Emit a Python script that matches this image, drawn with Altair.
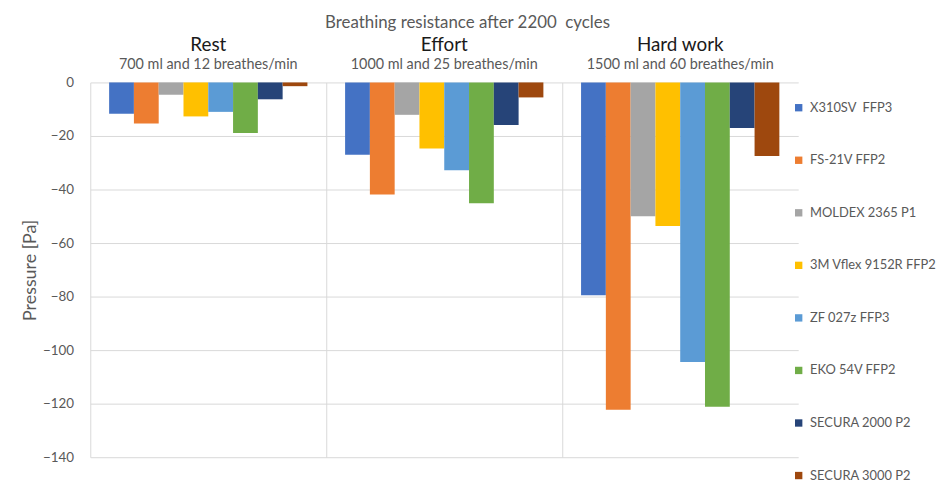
import altair as alt
import pandas as pd

# ---- data ----
conditions = ["Rest", "Effort", "Hard work"]
subtitles = ["700 ml and 12 breathes/min", "1000 ml and 25 breathes/min", "1500 ml and 60 breathes/min"]
series = ["X310SV\u00a0 FFP3", "FS-21V FFP2", "MOLDEX 2365 P1", "3M Vflex 9152R FFP2",
          "ZF 027z FFP3", "EKO 54V FFP2", "SECURA 2000 P2", "SECURA 3000 P2"]
rest = [-11.7, -15.3, -4.6, -12.7, -11.0, -18.9, -6.3, -1.4]
effort = [-27.0, -41.9, -12.1, -24.7, -32.8, -45.1, -15.9, -5.6]
hard_work = [-79.5, -122.3, -50.0, -53.6, -104.4, -121.2, -17.0, -27.5]
colors = ["#4472C4", "#ED7D31", "#A5A5A5", "#FFC000", "#5B9BD5", "#70AD47", "#264478", "#9E480E"]
y_ticks = [0, -20, -40, -60, -80, -100, -120, -140]

rows = []
for cond, vals in zip(conditions, [rest, effort, hard_work]):
    for s, v in zip(series, vals):
        rows.append({"condition": cond, "series": s, "value": v})
df = pd.DataFrame(rows)
hdr = pd.DataFrame({"condition": conditions, "subtitle": subtitles})

FONT = "Lato"
x_enc = alt.X("condition:N", sort=conditions,
              scale=alt.Scale(range=[0, 714], paddingInner=0, paddingOuter=0),
              axis=alt.Axis(labels=False, ticks=False, domain=False, title=None,
                            grid=True, bandPosition=0, gridColor="#D9D9D9"))

bars = alt.Chart(df).mark_bar().encode(
    x=x_enc,
    xOffset=alt.XOffset("series:N", sort=series,
                        scale=alt.Scale(paddingInner=0, paddingOuter=0.76)),
    y=alt.Y("value:Q", scale=alt.Scale(domain=[-140, 0], nice=False),
            axis=alt.Axis(values=y_ticks, grid=True, gridColor="#D9D9D9", domain=False,
                          ticks=False, labelColor="#595959", labelFontSize=13.5,
                          labelFont=FONT, labelPadding=17, title="Pressure [Pa]",
                          titleFont=FONT, titleFontSize=18, titleFontWeight="normal",
                          titleColor="#595959", titlePadding=3)),
    color=alt.Color("series:N", sort=series,
                    scale=alt.Scale(domain=series, range=colors),
                    legend=alt.Legend(title=None, orient="none", legendX=708, legendY=19,
                                      symbolType="square", symbolSize=55,
                                      symbolStrokeWidth=0, labelFont=FONT,
                                      labelFontSize=13, labelColor="#595959",
                                      rowPadding=39, labelOffset=5)),
)

head = alt.Chart(hdr).mark_text(font=FONT, fontSize=19, color="#1a1a1a").encode(
    x=x_enc, y=alt.value(-38), text="condition:N")
sub = alt.Chart(hdr).mark_text(font=FONT, fontSize=14.5, color="#595959").encode(
    x=x_enc, y=alt.value(-18), text="subtitle:N")

chart = alt.layer(bars, head, sub).properties(
    width=697, height=378,
    title=alt.TitleParams("Breathing resistance after 2200\u00a0 cycles", font=FONT,
                          fontSize=17, fontWeight="normal", color="#595959",
                          anchor="middle", dx=32, offset=4),
    autosize=alt.AutoSizeParams(type="none"),
    padding={"left": 83, "top": 73, "right": 157, "bottom": 29},
).configure_view(stroke=None)

chart.save("out.html", embed_options={"renderer": "svg", "actions": False})
